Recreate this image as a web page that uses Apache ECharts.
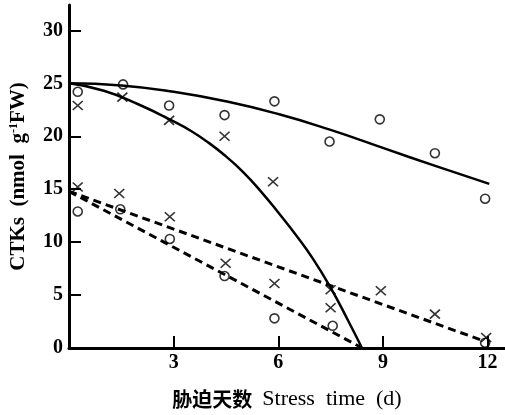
<!DOCTYPE html>
<html><head><meta charset="utf-8">
<script src="https://cdn.jsdelivr.net/npm/echarts@6/dist/echarts.min.js"></script>
<style>html,body{margin:0;padding:0;background:#fff}#c{width:505px;height:415px}</style>
</head><body><div id="c"></div>
<script>
// Data
const xTicks = [3, 6, 9, 12];
const yTicks = [0, 5, 10, 15, 20, 25, 30];

const circleUpperX = [0.25, 1.55, 2.87, 4.46, 5.89, 7.47, 8.91, 10.49, 11.93];
const circleUpperY = [24.2, 24.9, 22.9, 22.0, 23.3, 19.5, 21.6, 18.4, 14.1];
const crossSteepX = [0.25, 1.53, 2.87, 4.46, 5.85, 7.5];
const crossSteepY = [22.9, 23.7, 21.5, 20.0, 15.7, 3.8];
const crossDashedX = [0.25, 1.44, 2.89, 4.49, 5.89, 7.5, 8.94, 10.49, 11.96];
const crossDashedY = [15.2, 14.6, 12.4, 8.0, 6.1, 5.5, 5.4, 3.2, 1.0];
const circleDashedX = [0.25, 1.47, 2.89, 4.46, 5.89, 7.56, 11.93];
const circleDashedY = [12.9, 13.1, 10.3, 6.8, 2.8, 2.1, 0.5];

const curveUpperX = [0, 1.5, 3, 4.5, 6, 7.5, 9, 10.5, 12.05];
const curveUpperY = [25, 24.8, 24.2, 23.3, 22.1, 20.6, 18.9, 17.2, 15.5];
const curveSteepX = [0, 1, 2, 3, 3.5, 4, 4.5, 5, 5.5, 6, 6.5, 7, 7.5, 8, 8.4];
const curveSteepY = [25, 24.3, 23.0, 21.4, 20.5, 19.4, 18.1, 16.6, 14.8, 12.8, 10.7, 8.4, 5.7, 2.6, 0];
const dashUpperX = [0, 11.82];
const dashUpperY = [14.8, 0.75];
const dashLowerX = [0, 8.35];
const dashLowerY = [14.8, 0.1];

const zip = (xs, ys) => xs.map((x, i) => [x, ys[i]]);
const serif = '"Liberation Serif","DejaVu Serif",serif';
const crossSym = 'path://M0,0L10,10M10,0L0,10';

const circleStyle = {color: 'transparent', borderColor: '#000', borderWidth: 1.6};
const crossStyle = {color: 'transparent', borderColor: '#000', borderWidth: 1.6};

const chart = echarts.init(document.getElementById('c'), null, {renderer: 'canvas'});
chart.setOption({
  animation: false,
  backgroundColor: '#fff',
  grid: {left: 68, right: 0, top: 5, bottom: 67},
  xAxis: {
    type: 'value', min: 0, max: 12.5,
    axisLine: {lineStyle: {color: '#000', width: 3}},
    axisTick: {inside: true, length: 12, lineStyle: {color: '#000', width: 2}, customValues: xTicks},
    axisLabel: {customValues: xTicks, color: '#000', fontFamily: serif, fontWeight: 'bold', fontSize: 20, margin: 5},
    splitLine: {show: false},
    name: '{cn|胁迫天数}   {en|Stress  time  (d)}',
    nameLocation: 'middle', nameGap: 40,
    nameTextStyle: {
      rich: {
        cn: {fontFamily: '"Noto Sans CJK SC"', fontWeight: 'bold', fontSize: 20, color: '#000'},
        en: {fontFamily: serif, fontSize: 22, color: '#000'}
      }
    }
  },
  yAxis: {
    type: 'value', min: 0, max: 32.4,
    axisLine: {show: true, lineStyle: {color: '#000', width: 3}},
    axisTick: {show: true, inside: true, length: 12, lineStyle: {color: '#000', width: 2}, customValues: yTicks},
    axisLabel: {customValues: yTicks, color: '#000', fontFamily: serif, fontWeight: 'bold', fontSize: 20, margin: 6},
    splitLine: {show: false},
    name: 'CTKs  (nmol  g{sup|-1}FW)',
    nameLocation: 'middle', nameGap: 40, nameRotate: 90,
    nameTextStyle: {
      fontFamily: serif, fontWeight: 'bold', fontSize: 21, color: '#000',
      rich: {sup: {fontFamily: serif, fontWeight: 'bold', fontSize: 12, color: '#000', verticalAlign: 'top', padding: [0, 0, 8, 0]}}
    }
  },
  series: [
    {type: 'line', data: zip(curveUpperX, curveUpperY), smooth: 0.5, showSymbol: false, lineStyle: {color: '#000', width: 2.5}},
    {type: 'line', data: zip(curveSteepX, curveSteepY), smooth: 0.5, showSymbol: false, lineStyle: {color: '#000', width: 2.5}},
    {type: 'line', data: zip(dashUpperX, dashUpperY), showSymbol: false, lineStyle: {color: '#000', width: 3, type: [8, 5]}},
    {type: 'line', data: zip(dashLowerX, dashLowerY), showSymbol: false, lineStyle: {color: '#000', width: 3, type: [8, 5]}},
    {type: 'scatter', data: zip(circleUpperX, circleUpperY), symbol: 'circle', symbolSize: 9, itemStyle: circleStyle},
    {type: 'scatter', data: zip(circleDashedX, circleDashedY), symbol: 'circle', symbolSize: 9, itemStyle: circleStyle},
    {type: 'scatter', data: zip(crossSteepX, crossSteepY), symbol: crossSym, symbolSize: [10, 9], itemStyle: crossStyle},
    {type: 'scatter', data: zip(crossDashedX, crossDashedY), symbol: crossSym, symbolSize: [10, 9], itemStyle: crossStyle}
  ]
});
</script></body></html>
